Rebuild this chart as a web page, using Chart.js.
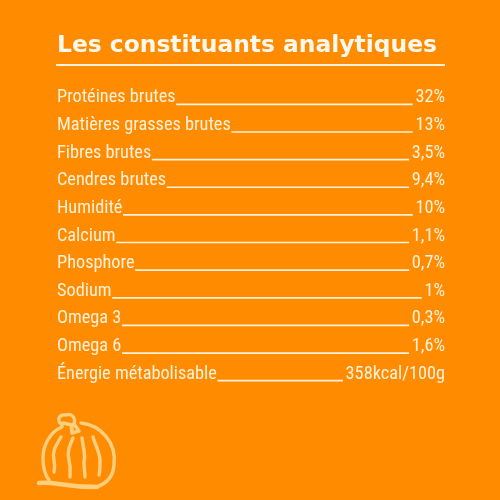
<!DOCTYPE html>
<html>
<head>
<meta charset="utf-8">
<style>
  html, body { margin: 0; padding: 0; background: #ff8c00; }
  canvas { display: block; }
</style>
<script src="https://cdn.jsdelivr.net/npm/chart.js@4"></script>
</head>
<body>
<canvas id="chart" width="500" height="500"></canvas>
<script>
const titleText = 'Les constituants analytiques';
const categories = ['Protéines brutes', 'Matières grasses brutes', 'Fibres brutes', 'Cendres brutes', 'Humidité', 'Calcium', 'Phosphore', 'Sodium', 'Omega 3', 'Omega 6', 'Énergie métabolisable'];
const amounts = ['32%', '13%', '3,5%', '9,4%', '10%', '1,1%', '0,7%', '1%', '0,3%', '1,6%', '358kcal/100g'];

const cream = '#fff1dc';
// chart.js rejects a width in font.style but passes font.weight straight into the font string
const rowFont = { family: 'Roboto', size: 18.3, weight: 'condensed' };
const plotWidth = 388;

const measureCtx = document.createElement('canvas').getContext('2d');
measureCtx.font = `${rowFont.weight} ${rowFont.size}px ${rowFont.family}`;
const textWidth = s => measureCtx.measureText(s).width;

// each leader runs from the end of the label to the start of the value
const leaders = categories.map((c, i) => [textWidth(c) + 1, plotWidth - textWidth(amounts[i]) - 3]);

const strokes = ctx => {
    ctx.beginPath(); // body, right side
    ctx.moveTo(81, 423);
    ctx.bezierCurveTo(100, 425, 117, 442, 114, 465);
    ctx.bezierCurveTo(113, 478, 106, 484, 96, 487);
    ctx.moveTo(62, 427); // body, left side
    ctx.bezierCurveTo(50, 432, 43, 445, 43, 458);
    ctx.bezierCurveTo(43, 468, 45, 475, 49, 480);
    ctx.moveTo(61, 437); // ribs
    ctx.bezierCurveTo(55, 447, 52, 452, 54, 460);
    ctx.bezierCurveTo(55, 465, 55, 468, 54, 472);
    ctx.moveTo(73, 438);
    ctx.bezierCurveTo(69, 447, 67, 452, 69, 460);
    ctx.bezierCurveTo(71, 467, 70, 472, 70, 477);
    ctx.moveTo(82, 438);
    ctx.bezierCurveTo(83, 447, 86, 455, 84, 462);
    ctx.bezierCurveTo(84, 468, 85, 473, 85, 477);
    ctx.moveTo(93, 437);
    ctx.bezierCurveTo(96, 447, 101, 455, 100, 462);
    ctx.bezierCurveTo(100, 468, 100, 472, 99, 475);
    ctx.moveTo(62, 425); // stem
    ctx.bezierCurveTo(56, 420, 59, 414, 66, 415);
    ctx.bezierCurveTo(72, 413, 76, 418, 74, 424);
    ctx.lineTo(79, 431);
    ctx.lineTo(72, 433);
    ctx.lineTo(72, 425);
    ctx.lineTo(63, 423);
    ctx.moveTo(72, 433);
    ctx.lineTo(71, 425);
    ctx.stroke();
    ctx.beginPath(); // ground
    ctx.moveTo(39, 483);
    ctx.bezierCurveTo(55, 481, 60, 487, 97, 487);
    ctx.lineWidth = 4.5;
    ctx.stroke();
};

const decorations = {
    id: 'decorations',
    beforeDatasetsDraw(chart) {
        // leaders sit on the text baseline, not on the middle of the row
        chart.ctx.save();
        chart.ctx.translate(0, 6.5);
    },
    afterDatasetsDraw(chart) {
        chart.ctx.restore();
    },
    afterDraw(chart) {
        const ctx = chart.ctx;
        ctx.save();
        ctx.fillStyle = cream;
        ctx.fillRect(56, 64, 389, 2);
        ctx.strokeStyle = '#ffcf7d';
        ctx.lineWidth = 3.4;
        ctx.lineCap = 'round';
        ctx.lineJoin = 'round';
        strokes(ctx);
        ctx.restore();
    }
};

const yAxis = (labels, position) => ({
    type: 'category',
    labels,
    position,
    offset: true,
    grid: { display: false, drawTicks: false },
    border: { display: false },
    ticks: { mirror: true, padding: 0, autoSkip: false, color: cream, font: rowFont }
});

new Chart(document.getElementById('chart'), {
    type: 'bar',
    data: {
        labels: categories,
        datasets: [{
            data: leaders,
            backgroundColor: cream,
            barThickness: 1,
            borderSkipped: false
        }]
    },
    plugins: [decorations],
    options: {
        indexAxis: 'y',
        responsive: false,
        animation: false,
        layout: { padding: { left: 57, right: 55, top: 26, bottom: 112 } },
        scales: {
            x: { display: false, min: 0, max: plotWidth },
            y: yAxis(categories, 'left'),
            y2: yAxis(amounts, 'right')
        },
        plugins: {
            legend: { display: false },
            tooltip: { enabled: false },
            title: {
                display: true,
                text: titleText,
                align: 'start',
                color: '#fff8ee',
                font: { family: '"DejaVu Sans"', size: 23.4, weight: 'bold' },
                padding: { top: 6, bottom: 24 }
            }
        }
    }
});
</script>
</body>
</html>
